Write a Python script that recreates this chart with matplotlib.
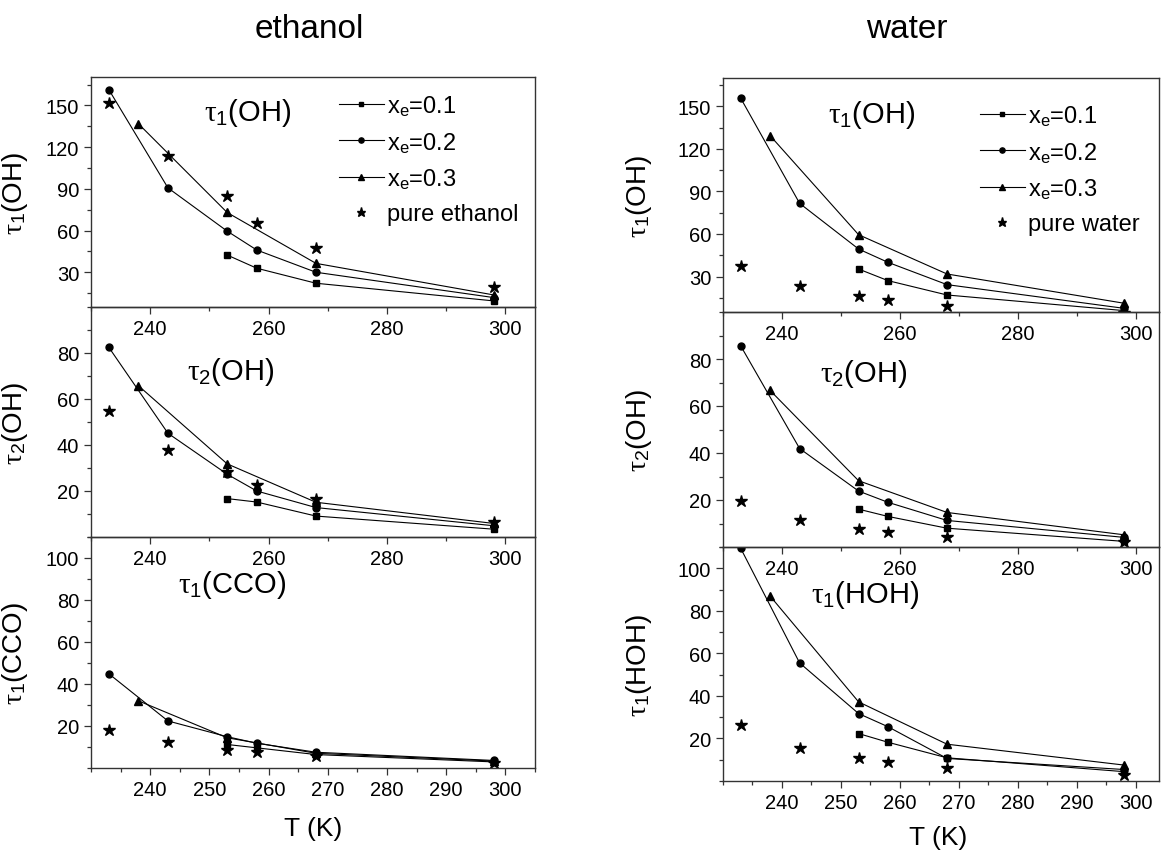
import matplotlib
matplotlib.use("Agg")
import matplotlib.pyplot as plt
from matplotlib.ticker import MultipleLocator

plt.rcParams['font.family'] = ['Liberation Sans', 'DejaVu Sans']
plt.rcParams['mathtext.fontset'] = 'custom'
plt.rcParams['mathtext.rm'] = 'Liberation Sans'
plt.rcParams['mathtext.it'] = 'Liberation Serif'

# temperatures (K) of each series
T_x01 = [253, 258, 268, 298]
T_x02 = [233, 243, 253, 258, 268, 298]
T_x03 = [238, 253, 268, 298]
T_pure = [233, 243, 253, 258, 268, 298]

# ethanol
eth_tau1_oh_x01 = [42.4, 32.9, 22.1, 9.4]
eth_tau1_oh_x02 = [161.5, 90.7, 59.6, 46.0, 30.0, 11.8]
eth_tau1_oh_x03 = [136.9, 73.0, 36.4, 13.7]
eth_tau1_oh_pure = [152.0, 113.7, 85.0, 65.6, 47.7, 19.7]

eth_tau2_oh_x01 = [16.7, 15.2, 9.1, 3.4]
eth_tau2_oh_x02 = [82.5, 45.1, 27.3, 20.0, 12.8, 4.9]
eth_tau2_oh_x03 = [65.8, 31.8, 15.1, 5.9]
eth_tau2_oh_pure = [54.6, 37.9, 28.4, 22.4, 16.4, 6.4]

eth_tau1_cco_x01 = [11.2, 9.6, 6.4, 2.9]
eth_tau1_cco_x02 = [44.9, 22.4, 14.9, 11.8, 7.5, 3.6]
eth_tau1_cco_x03 = [32.0, 14.4, 7.0, 3.3]
eth_tau1_cco_pure = [18.0, 12.5, 8.8, 7.5, 5.6, 2.4]

# water
wat_tau1_oh_x01 = [35.3, 27.1, 17.0, 6.0]
wat_tau1_oh_x02 = [155.8, 81.6, 49.4, 40.0, 24.3, 7.6]
wat_tau1_oh_x03 = [129.3, 59.5, 31.8, 11.2]
wat_tau1_oh_pure = [37.7, 23.6, 16.1, 13.5, 9.5, 4.0]

wat_tau2_oh_x01 = [16.1, 13.0, 8.0, 2.4]
wat_tau2_oh_x02 = [85.6, 41.9, 23.8, 19.0, 11.3, 4.1]
wat_tau2_oh_x03 = [66.6, 28.2, 14.7, 5.2]
wat_tau2_oh_pure = [19.6, 11.3, 7.6, 6.2, 4.2, 2.0]

wat_tau1_hoh_x01 = [22.3, 18.2, 10.9, 4.4]
wat_tau1_hoh_x02 = [109.4, 55.5, 31.7, 25.5, 10.6, 5.4]
wat_tau1_hoh_x03 = [86.9, 37.2, 17.3, 7.5]
wat_tau1_hoh_pure = [26.5, 15.6, 10.9, 9.0, 6.2, 2.8]

W, H = 1161, 854
fig = plt.figure(figsize=(W / 100, H / 100), dpi=100)


def px_axes(x0, y0, x1, y1):
    # pixel box (top-left origin) -> figure fraction
    ax = fig.add_axes([x0 / W, 1 - y1 / H, (x1 - x0) / W, (y1 - y0) / H])
    ax.patch.set_visible(False)
    return ax


def panel(ax, x01, x02, x03, pure, ylim, ymaj, ymin, xticks, xmin, xlim, ylabel, tag, tag_xy, pure_label=None):
    ax.plot(T_x01, x01, '-s', color='black', lw=0.8, ms=4.4, label=r'$\mathregular{x_e}$=0.1')
    ax.plot(T_x02, x02, '-o', color='black', lw=0.8, ms=5.0, label=r'$\mathregular{x_e}$=0.2')
    ax.plot(T_x03, x03, '-^', color='black', lw=0.8, ms=5.2, label=r'$\mathregular{x_e}$=0.3')
    ax.plot(T_pure, pure, '*', color='black', ms=9, label=pure_label, linestyle='none')
    ax.set_xlim(*xlim)
    ax.set_ylim(*ylim)
    ax.set_xticks(xticks)
    ax.xaxis.set_minor_locator(MultipleLocator(xmin))
    ax.yaxis.set_major_locator(MultipleLocator(ymaj))
    ax.yaxis.set_minor_locator(MultipleLocator(ymin))
    ax.tick_params(which='both', direction='out', labelsize=14.5, width=0.9, color='#333333')
    ax.tick_params(which='major', length=5)
    ax.tick_params(which='minor', length=3)
    for s in ax.spines.values():
        s.set_color('#333333')
        s.set_linewidth(1.0)
    ax.set_ylabel(ylabel, fontsize=20)
    ax.text(tag_xy[0], tag_xy[1], tag, fontsize=21, ha='left', va='center', transform=ax.transAxes)
    # only the labels that fall strictly inside the panel
    yt = [v for v in ax.get_yticks() if ylim[0] + 1e-9 < v < ylim[1] - 1e-9]
    ax.set_yticks(yt)


def add_legend(ax, x_frac, y_frac):
    ax.legend(loc='upper left', bbox_to_anchor=(x_frac, y_frac),
              frameon=False, fontsize=17, handlelength=1.9, handletextpad=0.15,
              labelspacing=0.5, borderpad=0, borderaxespad=0, markerscale=0.75, numpoints=1)


top_xticks = [240, 260, 280, 300]
bot_xticks = [240, 250, 260, 270, 280, 290, 300]

# ---------------- ethanol column ----------------
LX0, LX1 = 91, 535
lxlim = (230, 305)
ax1 = px_axes(LX0, 78, LX1, 308)
ax2 = px_axes(LX0, 308, LX1, 538)
ax3 = px_axes(LX0, 538, LX1, 769)

panel(ax1, eth_tau1_oh_x01, eth_tau1_oh_x02, eth_tau1_oh_x03, eth_tau1_oh_pure,
      (5, 170.5), 30, 15, top_xticks, 10, lxlim, r'$\tau_1$(OH)', r'$\tau_1$(OH)',
      ((204 - LX0) / (LX1 - LX0), 1 - (113 - 78) / 230), 'pure ethanol')
panel(ax2, eth_tau2_oh_x01, eth_tau2_oh_x02, eth_tau2_oh_x03, eth_tau2_oh_pure,
      (0, 100), 20, 10, top_xticks, 10, lxlim, r'$\tau_2$(OH)', r'$\tau_2$(OH)',
      ((187 - LX0) / (LX1 - LX0), 1 - (372 - 308) / 230))
panel(ax3, eth_tau1_cco_x01, eth_tau1_cco_x02, eth_tau1_cco_x03, eth_tau1_cco_pure,
      (0, 110), 20, 10, bot_xticks, 5, lxlim, r'$\tau_1$(CCO)', r'$\tau_1$(CCO)',
      ((178 - LX0) / (LX1 - LX0), 1 - (585 - 538) / 231))
ax3.set_xlabel('T (K)', fontsize=19)
ax3.xaxis.set_label_coords(0.5, -(829 - 769) / 231, transform=ax3.transAxes)
ax3.xaxis.label.set_va('center')
for a in (ax1, ax2, ax3):
    a.yaxis.set_label_coords(-0.137, 0.5)

add_legend(ax1, (339 - LX0) / (LX1 - LX0), 1 - (94 - 78) / 230)

# ---------------- water column ----------------
RX0, RX1 = 723, 1159
rxlim = (230, 230 + (RX1 - RX0) / 5.895)
ax4 = px_axes(RX0, 79, RX1, 313)
ax5 = px_axes(RX0, 313, RX1, 548)
ax6 = px_axes(RX0, 548, RX1, 782)

panel(ax4, wat_tau1_oh_x01, wat_tau1_oh_x02, wat_tau1_oh_x03, wat_tau1_oh_pure,
      (5, 170), 30, 15, top_xticks, 10, rxlim, r'$\tau_1$(OH)', r'$\tau_1$(OH)',
      ((828 - RX0) / (RX1 - RX0), 1 - (115 - 79) / 234), 'pure water')
panel(ax5, wat_tau2_oh_x01, wat_tau2_oh_x02, wat_tau2_oh_x03, wat_tau2_oh_pure,
      (0, 100), 20, 10, top_xticks, 10, rxlim, r'$\tau_2$(OH)', r'$\tau_2$(OH)',
      ((820 - RX0) / (RX1 - RX0), 1 - (374 - 313) / 235))
panel(ax6, wat_tau1_hoh_x01, wat_tau1_hoh_x02, wat_tau1_hoh_x03, wat_tau1_hoh_pure,
      (0, 110), 20, 10, bot_xticks, 5, rxlim, r'$\tau_1$(HOH)', r'$\tau_1$(HOH)',
      ((811 - RX0) / (RX1 - RX0), 1 - (595 - 548) / 234))
ax6.set_xlabel('T (K)', fontsize=19)
ax6.xaxis.set_label_coords((938 - RX0) / (RX1 - RX0), -(838 - 782) / 234, transform=ax6.transAxes)
ax6.xaxis.label.set_va('center')
for a in (ax4, ax5, ax6):
    a.yaxis.set_label_coords(-0.158, 0.5)

add_legend(ax4, (980 - RX0) / (RX1 - RX0), 1 - (104 - 79) / 234)

fig.text(309 / W, 1 - 30 / H, 'ethanol', fontsize=24, ha='center', va='center')
fig.text(907 / W, 1 - 30 / H, 'water', fontsize=24, ha='center', va='center')

fig.savefig('out.png', dpi=100)
